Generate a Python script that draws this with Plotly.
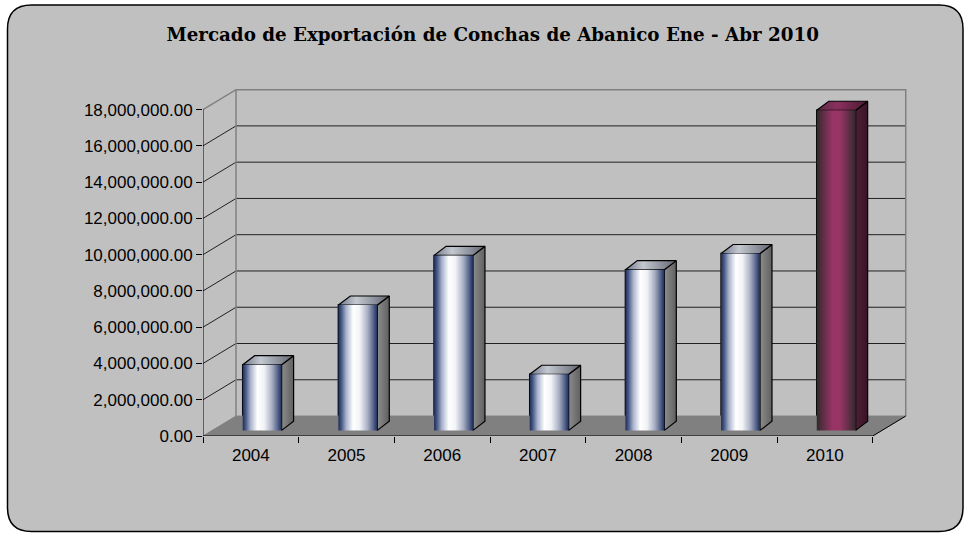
#import packages
import plotly.graph_objs as go

# data
years = ["2004", "2005", "2006", "2007", "2008", "2009", "2010"]
export_values = [3620000, 6910000, 9650000, 3090000, 8860000, 9750000, 17650000]
y_ticks = [0, 2000000, 4000000, 6000000, 8000000, 10000000, 12000000, 14000000, 16000000, 18000000]
highlight_year = "2010"
chart_title = "Mercado de Exportación de Conchas de Abanico Ene - Abr 2010"

# figure geometry (pixels) and axis ranges
FIG_W, FIG_H = 966, 533
M_L, M_R, M_T, M_B = 203, 55, 86, 97
X_MIN, X_MAX = -0.5, 6.9
Y_MAX = 19300000

# fake 3d depth, in axis units
DEPTH_X, DEPTH_Y = 0.345, 1100000
BAR_OFF, BAR_W, BAR_BASE = -0.085, 0.407, 310000
BAR_DX, BAR_DY = 0.125, 500000

# colours
BG = "#c0c0c0"
FLOOR = "#808080"
WALL_EDGE = "#808080"
GRID = "#202020"
FRONT_STD = [[0, "#1c2d5a"], [0.08, "#4a5a85"], [0.2, "#a8b2cc"], [0.38, "#ffffff"],
             [0.55, "#f2f3f7"], [0.75, "#a9b0c4"], [0.9, "#56648a"], [1, "#1c2d5a"]]
SIDE_STD = [[0, "#8c8c8c"], [1, "#606060"]]
TOP_STD = [[0, "#6f7788"], [0.35, "#c4c8d0"], [0.7, "#8e929c"], [1, "#62656e"]]
FRONT_HI = [[0, "#2e2a2c"], [0.15, "#5a2e42"], [0.4, "#993366"], [0.6, "#963565"],
            [0.85, "#5a2e42"], [1, "#2e2a2c"]]
SIDE_HI = [[0, "#4e1f36"], [1, "#3a1426"]]
TOP_HI = [[0, "#5a2a40"], [0.4, "#8a3060"], [1, "#4a1a30"]]

plot_w = FIG_W - M_L - M_R
plot_h = FIG_H - M_T - M_B


def to_paper(px, py):
    # convert a pixel position of the page into paper coordinates
    return (px - M_L) / plot_w, (FIG_H - M_B - py) / plot_h


def line(xs, ys, color, width=1):
    return go.Scatter(x=xs, y=ys, mode="lines", line=dict(color=color, width=width),
                      hoverinfo="skip", showlegend=False)


def face(xs, ys, scale, width=1.2):
    return go.Scatter(x=xs + [xs[0]], y=ys + [ys[0]], mode="lines", fill="toself",
                      fillgradient=dict(type="horizontal", colorscale=scale),
                      line=dict(color="black", width=width),
                      hoverinfo="skip", showlegend=False)


fig = go.Figure()

n = len(years)
x_front_r = n - 0.5
back_l, back_r = X_MIN + DEPTH_X, x_front_r + DEPTH_X

# floor
fig.add_trace(go.Scatter(x=[X_MIN, x_front_r, back_r, back_l, X_MIN], y=[0, 0, DEPTH_Y, DEPTH_Y, 0],
                         mode="lines", fill="toself", fillcolor=FLOOR, line=dict(color=FLOOR, width=1),
                         hoverinfo="skip", showlegend=False))

# back wall gridlines, with the diagonal on the left wall
for v in y_ticks[1:-1]:
    fig.add_trace(line([X_MIN, back_l, back_r], [v, v + DEPTH_Y, v + DEPTH_Y], GRID, 1))

# wall edges
top = y_ticks[-1]
fig.add_trace(line([X_MIN, back_l, back_r, back_r], [top, top + DEPTH_Y, top + DEPTH_Y, DEPTH_Y], WALL_EDGE, 1.5))
fig.add_trace(line([back_l, back_l], [DEPTH_Y, top + DEPTH_Y], WALL_EDGE, 1.5))

# front edges: y axis line, floor front and right side
fig.add_trace(line([X_MIN, X_MIN], [0, top], "black", 1))
fig.add_trace(line([X_MIN, x_front_r, back_r], [0, 0, DEPTH_Y], "black", 1))

# bars: side, top and front faces
for i, (yr, v) in enumerate(zip(years, export_values)):
    hi = yr == highlight_year
    xl = i + BAR_OFF
    xr = xl + BAR_W
    yt = BAR_BASE + v
    fig.add_trace(face([xr, xr + BAR_DX, xr + BAR_DX, xr],
                       [BAR_BASE, BAR_BASE + BAR_DY, yt + BAR_DY, yt], SIDE_HI if hi else SIDE_STD))
    fig.add_trace(face([xl, xr, xr + BAR_DX, xl + BAR_DX],
                       [yt, yt, yt + BAR_DY, yt + BAR_DY], TOP_HI if hi else TOP_STD))
    fig.add_trace(face([xl, xr, xr, xl], [BAR_BASE, BAR_BASE, yt, yt], FRONT_HI if hi else FRONT_STD, 0))

# the bars themselves, drawn as outlines over the shaded front faces
fig.add_trace(go.Bar(x=list(range(n)), y=export_values, base=BAR_BASE, width=BAR_W, offset=BAR_OFF,
                     marker=dict(color="rgba(0,0,0,0)", line=dict(color="black", width=1.5)),
                     hovertemplate="%{text}: %{y:,.2f}<extra></extra>", text=years, showlegend=False))

# rounded border of the chart area
x0, y0 = to_paper(7.5, 5)
x1, y1 = to_paper(963, 531.5)
rx = 24 / plot_w
ry = 24 / plot_h
path = (f"M {x0 + rx},{y0} L {x1 - rx},{y0} Q {x1},{y0} {x1},{y0 - ry} "
        f"L {x1},{y1 + ry} Q {x1},{y1} {x1 - rx},{y1} L {x0 + rx},{y1} "
        f"Q {x0},{y1} {x0},{y1 + ry} L {x0},{y0 - ry} Q {x0},{y0} {x0 + rx},{y0} Z")
fig.add_shape(type="path", path=path, xref="paper", yref="paper", layer="below",
              fillcolor=BG, line=dict(color="black", width=1.5))

fig.update_layout(
    width=FIG_W, height=FIG_H,
    margin=dict(l=M_L, r=M_R, t=M_T, b=M_B, autoexpand=False),
    paper_bgcolor="white", plot_bgcolor="rgba(0,0,0,0)",
    title=dict(text="<b>" + chart_title + "</b>", x=0.51, xanchor="center", y=1 - 35 / FIG_H, yanchor="middle",
               font=dict(family="DejaVu Serif", size=18.3, color="black")),
    xaxis=dict(range=[X_MIN, X_MAX], tickvals=list(range(n)), ticktext=years, ticks="",
               showgrid=False, zeroline=False, showline=False, ticklabelstandoff=7,
               minor=dict(tickvals=[k - 0.5 for k in range(n + 1)], ticks="outside", ticklen=6,
                          tickcolor="black", tickwidth=1, showgrid=False),
               tickfont=dict(family="Liberation Sans", size=17, color="black")),
    yaxis=dict(range=[0, Y_MAX], tickvals=y_ticks, tickformat=",.2f", ticks="outside", ticklen=6,
               tickcolor="black", showgrid=False, zeroline=False, showline=False,
               tickfont=dict(family="Liberation Sans", size=17, color="black")),
    showlegend=False,
)

# the page has a default body margin, drop it so the figure fills the window
fig.write_html("out.html", config={"displayModeBar": False},
               post_script="document.body.style.margin = '0';")
